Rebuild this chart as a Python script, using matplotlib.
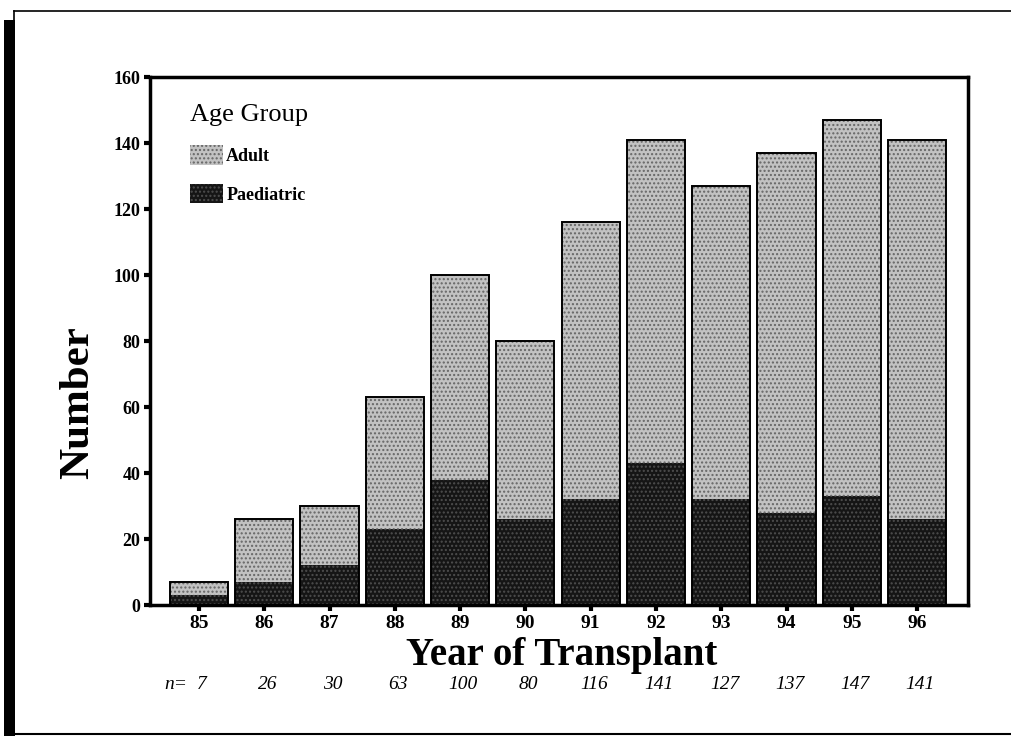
import matplotlib
matplotlib.use("Agg")
import matplotlib.pyplot as plt
from matplotlib.patches import Patch, Rectangle
from matplotlib.lines import Line2D
from matplotlib.transforms import blended_transform_factory

years = [85, 86, 87, 88, 89, 90, 91, 92, 93, 94, 95, 96]
year_labels = ["85", "86", "87", "88", "89", "90", "91", "92", "93", "94", "95", "96"]
totals = [7, 26, 30, 63, 100, 80, 116, 141, 127, 137, 147, 141]
paediatric = [3, 7, 12, 23, 38, 26, 32, 43, 32, 28, 33, 26]
adult = [t - p for t, p in zip(totals, paediatric)]
y_ticks = [0, 20, 40, 60, 80, 100, 120, 140, 160]

plt.rcParams['font.family'] = ['Liberation Serif', 'DejaVu Serif']
plt.rcParams['hatch.linewidth'] = 1.0

W, H = 1011, 736
fig = plt.figure(figsize=(W / 100, H / 100), dpi=100)
ax = fig.add_axes([150 / W, 1 - 605 / H, 818 / W, 528 / H])

bar_w = 0.89
adult_face = '#c2c2c2'
adult_dots = '#666666'
paed_face = '#151515'
paed_dots = '#4e4e4e'

# stippled fill, then a black outline on top
ax.bar(years, paediatric, bar_w, color=paed_face, hatch='....', edgecolor=paed_dots, linewidth=0)
ax.bar(years, adult, bar_w, bottom=paediatric, color=adult_face, hatch='....',
       edgecolor=adult_dots, linewidth=0)
ax.bar(years, totals, bar_w, fill=False, edgecolor='black', linewidth=1.4)

ax.set_xlim(84.25, 96.78)
ax.set_ylim(0, 160)
ax.set_xticks(years)
ax.set_xticklabels(year_labels, fontsize=14, fontweight='bold')
ax.set_yticks(y_ticks)
ax.set_yticklabels([str(v) for v in y_ticks], fontsize=13, fontweight='bold')
ax.tick_params(direction='out', length=4, width=3, pad=3)
for s in ax.spines.values():
    s.set_linewidth(2.5)

ax.text(-0.088, 0.383, "Number", transform=ax.transAxes, rotation=90,
        ha='center', va='center', fontsize=31, fontweight='bold')
fig.text(562 / W, 1 - 665 / H, "Year of Transplant", ha='center', va='baseline',
         fontsize=28, fontweight='bold')

# n= counts under each year
tr = blended_transform_factory(ax.transData, fig.transFigure)
n_y = 1 - 689 / H
for yr, n in zip(years, totals):
    ax.text(yr + 0.05, n_y, str(n), transform=tr, ha='center', va='baseline',
            fontsize=14, style='italic', clip_on=False)
ax.text(years[0] - 0.18, n_y, "n=", transform=tr, ha='right', va='baseline',
        fontsize=14, style='italic', clip_on=False)

handles = [Patch(facecolor=adult_face, hatch='....', edgecolor=adult_dots, linewidth=0),
           Patch(facecolor=paed_face, hatch='....', edgecolor=paed_dots, linewidth=0)]
leg = ax.legend(handles, ["Adult", "Paediatric"], title="Age Group", loc='upper left',
                bbox_to_anchor=(0.049, 0.948), frameon=False, alignment='left',
                prop={'size': 13, 'weight': 'bold'}, title_fontsize=19,
                handlelength=1.85, handleheight=1.25, handletextpad=0.15,
                labelspacing=1.05, borderpad=0, borderaxespad=0)

# page border
fig.add_artist(Rectangle((4 / W, 0), 11 / W, 1 - 20 / H, transform=fig.transFigure,
                         facecolor='black', edgecolor='none'))
fig.add_artist(Line2D([14 / W, 1], [1 - 11 / H, 1 - 11 / H], transform=fig.transFigure,
                      color='black', linewidth=1.2))
fig.add_artist(Line2D([14 / W, 14 / W], [1 - 11 / H, 1 - 20 / H], transform=fig.transFigure,
                      color='black', linewidth=1.2))
fig.add_artist(Line2D([14 / W, 1], [1 - 734 / H, 1 - 734 / H], transform=fig.transFigure,
                      color='black', linewidth=1.5))

fig.savefig("out.png", dpi=100)
